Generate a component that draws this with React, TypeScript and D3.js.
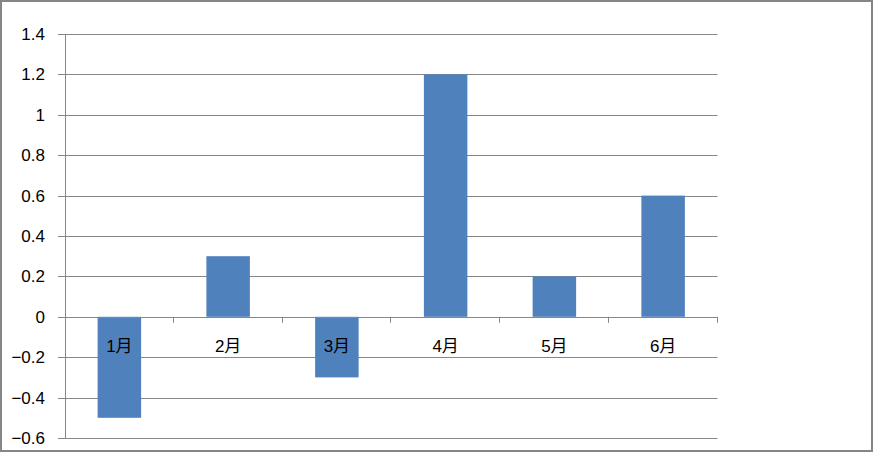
import React from "react";
import * as d3 from "d3";

const categories = ["1月", "2月", "3月", "4月", "5月", "6月"];
const values = [-0.5, 0.3, -0.3, 1.2, 0.2, 0.6];
const yTicks = [1.4, 1.2, 1, 0.8, 0.6, 0.4, 0.2, 0, -0.2, -0.4, -0.6];

const W = 873;
const H = 452;
const left = 65;
const right = 717.5;
const top = 34;
const bottom = 438;
const grid = "#868686";
const font = "'Liberation Sans', 'Noto Sans CJK SC', sans-serif";

export default function App() {
  const y = d3.scaleLinear().domain([-0.6, 1.4]).range([bottom, top]);
  const x = d3.scaleBand<string>().domain(categories).range([left, right]).paddingInner(0).paddingOuter(0);
  const bw = x.bandwidth() / 2.5;
  const y0 = y(0);

  return (
    <svg
      width={W}
      height={H}
      style={{ position: "absolute", left: 0, top: 0, background: "#fff" }}
      fontFamily={font}
    >
      <rect x={1} y={1} width={W - 2} height={H - 2} fill="#fff" stroke={grid} strokeWidth={2} />
      {yTicks.map((t) => (
        <g key={t}>
          <line x1={58} x2={right} y1={Math.round(y(t)) + 0.5} y2={Math.round(y(t)) + 0.5} stroke={grid} strokeWidth={1} />
          <text x={45} y={y(t) + 6} textAnchor="end" fontSize={17} fill="#000">
            {d3.format("")(t)}
          </text>
        </g>
      ))}
      <line x1={left + 0.5} x2={left + 0.5} y1={top} y2={bottom} stroke={grid} strokeWidth={1} />
      {categories.map((c, i) => {
        const v = values[i];
        const cx = (x(c) as number) + x.bandwidth() / 2;
        const yTop = y(Math.max(0, v));
        const yBot = y(Math.min(0, v));
        return (
          <rect key={c} x={cx - bw / 2} y={yTop} width={bw} height={yBot - yTop} fill="#4F81BD" />
        );
      })}
      <line x1={left} x2={right} y1={Math.round(y0) + 0.5} y2={Math.round(y0) + 0.5} stroke={grid} strokeWidth={1} />
      {categories.map((c) => {
        const xe = (x(c) as number) + x.bandwidth();
        return (
          <line key={"t" + c} x1={Math.round(xe) - 0.5} x2={Math.round(xe) - 0.5} y1={y0} y2={y0 + 6} stroke={grid} strokeWidth={1} />
        );
      })}
      {categories.map((c) => {
        const cx = (x(c) as number) + x.bandwidth() / 2;
        return (
          <text key={"l" + c} x={cx} y={352} textAnchor="middle" fontSize={17} fill="#000">
            {c}
          </text>
        );
      })}
    </svg>
  );
}
